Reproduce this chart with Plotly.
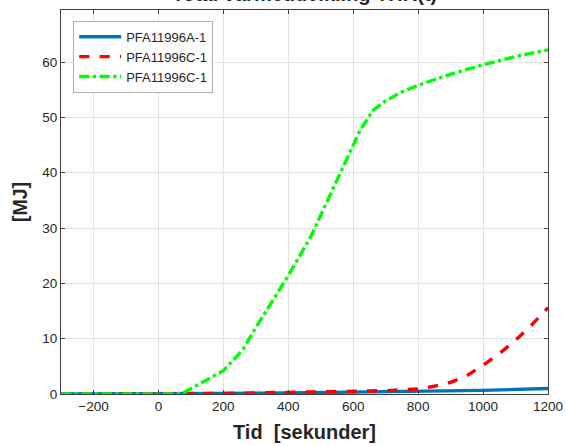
import plotly.graph_objects as go

title_text = "Total varmeudvikling THR(t)"
x_label = "Tid\u00a0\u00a0[sekunder]"
y_label = "[MJ]"

names = ["PFA11996A-1", "PFA11996C-1", "PFA11996C-1"]

t_blue = [-300, 70, 200, 400, 600, 800, 1000, 1200]
v_blue = [0, 0, 0.1, 0.2, 0.3, 0.4, 0.65, 1.0]

t_red = [-300, 70, 200, 400, 600, 700, 800, 850, 900, 950, 1000, 1050, 1100, 1150, 1200]
v_red = [0, 0, 0.1, 0.3, 0.5, 0.6, 0.9, 1.4, 2.1, 3.3, 5.2, 7.3, 9.7, 12.5, 15.6]

t_green = [-300, 70, 200, 260, 300, 400, 470, 570, 620, 660, 700, 750, 800, 900, 1000, 1100, 1200]
v_green = [0, 0, 4.2, 8.0, 12.0, 21.4, 28.5, 41.0, 47.5, 51.2, 53.0, 54.6, 55.8, 57.8, 59.5, 61.0, 62.2]

x_ticks = [-200, 0, 200, 400, 600, 800, 1000, 1200]
y_ticks = [0, 10, 20, 30, 40, 50, 60]

txt = "#262626"
font_family = "Liberation Sans, Arial, sans-serif"

fig = go.Figure()
fig.add_trace(go.Scatter(x=t_blue, y=v_blue, mode="lines", name=names[0],
                         line=dict(color="#0072BD", width=3.4)))
fig.add_trace(go.Scatter(x=t_red, y=v_red, mode="lines", name=names[1],
                         line=dict(color="#FF0000", width=3.4, dash="dash")))
fig.add_trace(go.Scatter(x=t_green, y=v_green, mode="lines", name=names[2],
                         line=dict(color="#00FF00", width=3.4, dash="dashdot")))

axis_common = dict(
    showgrid=True, gridcolor="#e3e3e3", gridwidth=1,
    showline=True, linecolor="#404040", linewidth=1.2, mirror="ticks",
    ticks="inside", ticklen=4, tickcolor="#404040",
    tickfont=dict(family=font_family, size=13.5, color=txt),
    zeroline=False, automargin=False,
)

fig.update_layout(
    width=566, height=446,
    margin=dict(l=61, r=18, t=10, b=52),
    paper_bgcolor="white", plot_bgcolor="white",
    font=dict(family=font_family, color=txt),
    xaxis=dict(range=[-300, 1200], tickvals=x_ticks,
               title=dict(text="<b>" + x_label + "</b>", standoff=11,
                          font=dict(size=20, color=txt, family=font_family)),
               **axis_common),
    yaxis=dict(range=[0, 69.4], tickvals=y_ticks,
               title=dict(text="<b>" + y_label + "</b>", standoff=9,
                          font=dict(size=19.5, color=txt, family=font_family)),
               **axis_common),
    legend=dict(x=0.025, y=0.972, xanchor="left", yanchor="top",
                bgcolor="white", bordercolor="#b0b0b0", borderwidth=1,
                font=dict(size=13, color=txt, family=font_family),
                tracegroupgap=0, itemwidth=42),
    showlegend=True,
)

fig.add_annotation(text="<b>" + title_text + "</b>", xref="paper", yref="paper",
                   x=0.5, y=1.042, xanchor="center", yanchor="middle",
                   showarrow=False,
                   font=dict(size=20, color=txt, family=font_family))

fig.write_html("out.html", config={"displayModeBar": False},
               post_script="document.body.style.margin='0px';document.body.style.overflow='hidden';")
